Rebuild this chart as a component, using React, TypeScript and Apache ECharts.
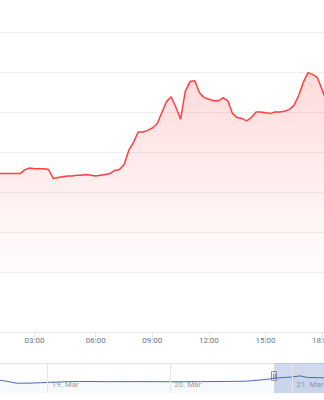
import React, { useEffect, useRef } from "react";
import * as echarts from "echarts";

// Main chart: intraday times (ordinal, one point per sample)
const times = [
  "01:00", "01:15", "01:30", "01:45", "02:00", "02:15", "02:30", "02:45",
  "03:00", "03:15", "03:30", "03:45", "04:00", "04:15", "04:30", "04:45",
  "05:00", "05:15", "05:30", "05:40", "05:50",
  "06:00", "06:15", "06:30", "06:45", "07:00", "07:15", "07:30", "07:45",
  "08:00", "08:15", "08:30", "08:45", "09:00", "09:15", "09:30", "09:45",
  "10:00", "10:15", "10:30", "10:45", "11:00", "11:15", "11:30", "11:45",
  "12:00", "12:15", "12:30", "12:45", "13:00", "13:15", "13:30", "13:45",
  "14:00", "14:15", "14:30", "14:45", "15:00", "15:15", "15:30", "15:45",
  "16:00", "16:15", "16:30", "16:45", "17:00", "17:15", "17:30", "17:45",
  "18:00", "18:15", "18:30",
];

const prices = [
  21.23, 21.23, 21.23, 21.23, 21.23, 21.23, 21.28, 21.30,
  21.29, 21.29, 21.29, 21.28, 21.17, 21.18, 21.19, 21.20,
  21.20, 21.21, 21.21, 21.22, 21.21,
  21.20, 21.21, 21.22, 21.23, 21.27, 21.28, 21.34, 21.52,
  21.62, 21.75, 21.75, 21.77, 21.80, 21.85, 21.99, 22.13,
  22.19, 22.06, 21.91, 22.26, 22.38, 22.39, 22.24, 22.18,
  22.16, 22.14, 22.14, 22.18, 22.14, 21.98, 21.93, 21.92,
  21.89, 21.93, 22.00, 22.00, 21.99, 21.98, 22.00, 22.00,
  22.01, 22.03, 22.08, 22.20, 22.37, 22.49, 22.47, 22.43,
  22.28, 22.12, 22.06,
];

const tickLabels = ["03:00", "06:00", "09:00", "12:00", "15:00", "18:00"];

// Navigator
const navTimes = [
  "2024-03-18 12:00", "2024-03-18 15:00", "2024-03-18 18:00", "2024-03-18 21:00",
  "2024-03-19 00:00", "2024-03-19 03:00", "2024-03-19 06:00", "2024-03-19 12:00",
  "2024-03-19 18:00", "2024-03-20 00:00", "2024-03-20 06:00", "2024-03-20 12:00",
  "2024-03-20 15:00", "2024-03-20 18:00", "2024-03-20 21:00", "2024-03-21 00:00",
  "2024-03-21 01:30", "2024-03-21 03:00", "2024-03-21 06:00", "2024-03-21 09:00",
];
const navValues = [
  21.6, 21.5, 20.96, 20.98, 21.12, 21.22, 21.3, 21.25,
  21.27, 21.24, 21.26, 21.3, 21.35, 21.6, 21.95, 22.15,
  22.35, 22.05, 22.0, 22.1,
];
const navDays = ["2024-03-19 00:00", "2024-03-20 00:00", "2024-03-21 00:00"];
const navDayLabels = ["19. Mar", "20. Mar", "21. Mar"];
const navRange = ["2024-03-18 14:00", "2024-03-21 07:40"];
const navSelectionStart = "2024-03-20 20:24";

function ts(s: string): number {
  const [d, t] = s.split(" ");
  const [y, m, day] = d.split("-").map(Number);
  const [h, mi] = t.split(":").map(Number);
  return Date.UTC(y, m - 1, day, h, mi);
}

const CHART_W = 424;
const OFFSET_X = -40;

export default function App() {
  const ref = useRef<HTMLDivElement>(null);
  useEffect(() => {
    if (!ref.current) return;
    const chart = echarts.init(ref.current, undefined, { renderer: "svg" });
    const gridLeft = 36.7;
    const gridRight = 52.5;
    const dayTs = navDays.map(ts);
    const navMin = ts(navRange[0]);
    const navMax = ts(navRange[1]);
    const selStart = ts(navSelectionStart);
    const showTick = (_i: number, v: string) => tickLabels.includes(v);

    chart.setOption({
      animation: false,
      textStyle: { fontFamily: "Roboto, 'Liberation Sans', sans-serif" },
      grid: [
        { left: gridLeft, right: gridRight, top: 32, height: 240 },
        { left: gridLeft, right: gridRight, top: 363, height: 30 },
      ],
      xAxis: [
        {
          gridIndex: 0,
          type: "category",
          data: times,
          boundaryGap: false,
          offset: 60,
          axisLine: { lineStyle: { color: "#e3e6ec", width: 1 } },
          axisTick: { show: true, interval: showTick, length: 8, lineStyle: { color: "#e3e6ec" } },
          axisLabel: { interval: showTick, fontSize: 8, color: "#6b7385", margin: 4 },
          splitLine: { show: false },
        },
        {
          gridIndex: 1,
          type: "value",
          min: navMin,
          max: navMax,
          axisLine: { show: false },
          axisTick: { show: false },
          splitLine: { show: false },
          axisLabel: {
            customValues: dayTs,
            inside: true,
            align: "left",
            padding: [0, 0, 0, 4],
            margin: 5,
            fontSize: 8,
            color: "#a3a3a3",
            formatter: (v: number) => {
              const idx = dayTs.indexOf(v);
              return idx >= 0 ? navDayLabels[idx] : "";
            },
          },
        },
      ],
      yAxis: [
        {
          gridIndex: 0,
          type: "value",
          min: 20,
          max: 23,
          interval: 0.5,
          axisLabel: { show: false },
          axisLine: { show: false },
          axisTick: { show: false },
          splitLine: { lineStyle: { color: "#eeeeee", width: 1 } },
        },
        {
          gridIndex: 1,
          type: "value",
          min: 19.1,
          max: 24.8,
          show: false,
          splitLine: { show: false },
        },
      ],
      series: [
        {
          type: "line",
          xAxisIndex: 0,
          yAxisIndex: 0,
          data: prices,
          showSymbol: false,
          lineStyle: { color: "#ff4040", width: 1.5 },
          itemStyle: { color: "#ff4040" },
          areaStyle: {
            color: new echarts.graphic.LinearGradient(0, 0, 0, 1, [
              { offset: 0, color: "rgba(255,40,40,0.24)" },
              { offset: 0.6, color: "rgba(255,40,40,0.1)" },
              { offset: 1, color: "rgba(255,40,40,0.02)" },
            ]),
          },
        },
        {
          type: "line",
          xAxisIndex: 1,
          yAxisIndex: 1,
          data: navTimes.map((t, i) => [ts(t), navValues[i]]),
          showSymbol: false,
          lineStyle: { color: "#4a6cb3", width: 1 },
          itemStyle: { color: "#4a6cb3" },
          areaStyle: { color: "rgba(51,92,173,0.05)" },
          markArea: {
            silent: true,
            itemStyle: { color: "rgba(102,133,194,0.3)" },
            data: [[{ xAxis: selStart }, { xAxis: navMax }]],
          },
          markLine: {
            silent: true,
            symbol: "none",
            label: { show: false },
            lineStyle: { color: "#e6e6e6", width: 1, type: "solid" },
            data: dayTs.map((d) => ({ xAxis: d })),
          },
        },
      ],
    });

    const hx = chart.convertToPixel({ xAxisIndex: 1 }, selStart) as number;
    chart.setOption({
      graphic: [
        {
          type: "line",
          shape: { x1: 0, y1: 363.5, x2: CHART_W, y2: 363.5 },
          style: { stroke: "#dde2ea", lineWidth: 1 },
          silent: true,
        },
        {
          type: "group",
          x: Math.round(hx),
          y: 371,
          children: [
            {
              type: "rect",
              shape: { x: -2.5, y: 0.5, width: 5, height: 9 },
              style: { fill: "#f2f2f2", stroke: "#999999", lineWidth: 1 },
            },
            { type: "line", shape: { x1: -0.5, y1: 3, x2: -0.5, y2: 7 }, style: { stroke: "#999999", lineWidth: 1 } },
            { type: "line", shape: { x1: 1.5, y1: 3, x2: 1.5, y2: 7 }, style: { stroke: "#999999", lineWidth: 1 } },
          ],
        },
      ],
    });

    return () => chart.dispose();
  }, []);

  return (
    <div style={{ position: "fixed", left: 0, top: 0, width: 324, height: 400, overflow: "hidden", background: "#fff" }}>
      <div ref={ref} style={{ position: "absolute", left: OFFSET_X, top: 0, width: CHART_W, height: 400 }} />
    </div>
  );
}
